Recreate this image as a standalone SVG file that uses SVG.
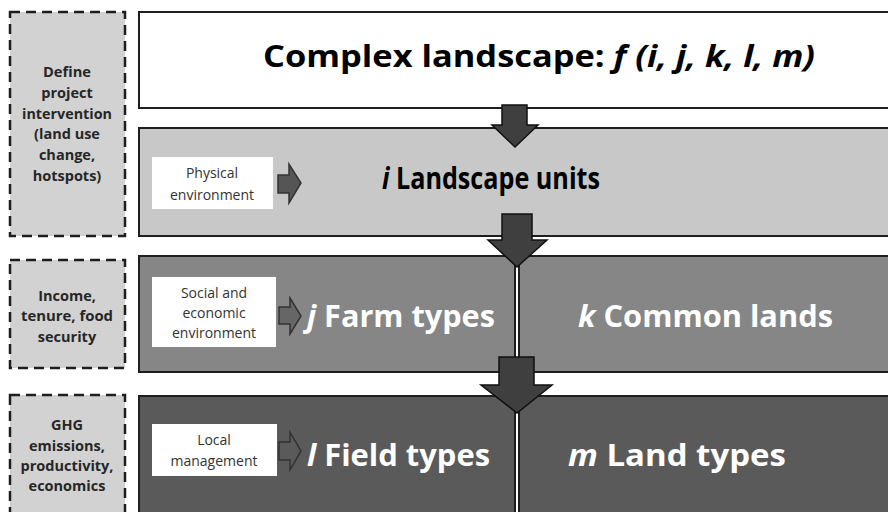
<svg xmlns="http://www.w3.org/2000/svg" width="888" height="512" viewBox="0 0 888 512">
<style>
.dash{fill:#d2d2d2;stroke:#1e1e1e;stroke-width:2.5;stroke-dasharray:10 6}
.box{stroke:#1e1e1e;stroke-width:2}
.side{font-family:"Open Sans",Lato,sans-serif;font-weight:bold;font-size:14.5px;fill:#262626;text-anchor:middle}
.lbl{font-family:"Open Sans",Lato,sans-serif;font-size:14px;fill:#333;text-anchor:middle}
.big{font-family:"Open Sans",Lato,sans-serif;font-weight:bold;font-size:30px}
.bigarrow{fill:#3f3f3f;stroke:#111;stroke-width:1.5;stroke-linejoin:miter}
.sarrow{stroke:#333;stroke-width:1.5}
</style>
<rect width="888" height="512" fill="#fff"/>
<g id="side1">
<rect class="dash" x="10" y="12" width="115" height="224"/>
<text class="side" x="67" y="77" textLength="48" lengthAdjust="spacingAndGlyphs">Define</text>
<text class="side" x="67" y="98">project</text>
<text class="side" x="67" y="119" textLength="90" lengthAdjust="spacingAndGlyphs">intervention</text>
<text class="side" x="67" y="139">(land use</text>
<text class="side" x="67" y="160">change,</text>
<text class="side" x="67" y="181">hotspots)</text>
</g>
<g id="side2">
<rect class="dash" x="10" y="260" width="115" height="108"/>
<text class="side" x="67" y="301">Income,</text>
<text class="side" x="67" y="321" textLength="92" lengthAdjust="spacingAndGlyphs">tenure, food</text>
<text class="side" x="67" y="342">security</text>
</g>
<g id="side3">
<rect class="dash" x="10" y="395" width="115" height="130"/>
<text class="side" x="67" y="430">GHG</text>
<text class="side" x="67" y="451">emissions,</text>
<text class="side" x="67" y="471" textLength="93" lengthAdjust="spacingAndGlyphs">productivity,</text>
<text class="side" x="67" y="491">economics</text>
</g>
<g id="complex">
<rect class="box" x="139" y="12" width="760" height="96" fill="#fff"/>
<text class="big" x="263" y="67" font-size="33" fill="#000" textLength="552" lengthAdjust="spacingAndGlyphs">Complex landscape: <tspan font-style="italic">f (i, j, k, l, m)</tspan></text>
</g>
<g id="landscape">
<rect class="box" x="139" y="128" width="760" height="108" fill="#c8c8c8"/>
<rect x="152" y="157" width="121" height="52" fill="#fff"/>
<text class="lbl" x="212" y="178">Physical</text>
<text class="lbl" x="212" y="200">environment</text>
<text class="big" x="382" y="189" fill="#000" textLength="218" lengthAdjust="spacingAndGlyphs"><tspan font-style="italic">i</tspan> Landscape units</text>
</g>
<g id="farm">
<rect class="box" x="139" y="256" width="376" height="116" fill="#868686"/>
<rect x="152" y="277" width="124" height="70" fill="#fff"/>
<text class="lbl" x="214" y="298">Social and</text>
<text class="lbl" x="214" y="318">economic</text>
<text class="lbl" x="214" y="338">environment</text>
<text class="big" x="307" y="327" fill="#fff" textLength="188" lengthAdjust="spacingAndGlyphs"><tspan font-style="italic">j</tspan> Farm types</text>
</g>
<g id="common">
<rect class="box" x="519" y="256" width="380" height="116" fill="#868686"/>
<text class="big" x="578" y="327" fill="#fff" textLength="255" lengthAdjust="spacingAndGlyphs"><tspan font-style="italic">k</tspan> Common lands</text>
</g>
<g id="field">
<rect class="box" x="139" y="396" width="376" height="130" fill="#5a5a5a"/>
<rect x="152" y="424" width="125" height="52" fill="#fff"/>
<text class="lbl" x="214" y="445">Local</text>
<text class="lbl" x="214" y="466">management</text>
<text class="big" x="307" y="466" fill="#fff" textLength="183" lengthAdjust="spacingAndGlyphs"><tspan font-style="italic">l</tspan> Field types</text>
</g>
<g id="land">
<rect class="box" x="519" y="396" width="380" height="130" fill="#5a5a5a"/>
<text class="big" x="568" y="466" fill="#fff" textLength="218" lengthAdjust="spacingAndGlyphs"><tspan font-style="italic">m</tspan> Land types</text>
</g>
<g id="connectors">
<polygon class="bigarrow" points="502,105 527,105 527,125 538,125 515,147 492,125 502,125"/>
<polygon class="bigarrow" points="502,214 532,214 532,240 547,240 517,267 488,240 502,240"/>
<polygon class="bigarrow" points="499,357 534,357 534,385 552,385 517,413 481,385 499,385"/>
<polygon class="sarrow" fill="#555" points="278,175 289,175 289,164 301,183 289,203 289,193 278,193"/>
<polygon class="sarrow" fill="#666" points="279,307 290,307 290,298 301,316 290,334 290,324 279,324"/>
<polygon class="sarrow" fill="#5a5a5a" points="279,442 290,442 290,432 301,451 290,470 290,460 279,460"/>
</g>
</svg>
